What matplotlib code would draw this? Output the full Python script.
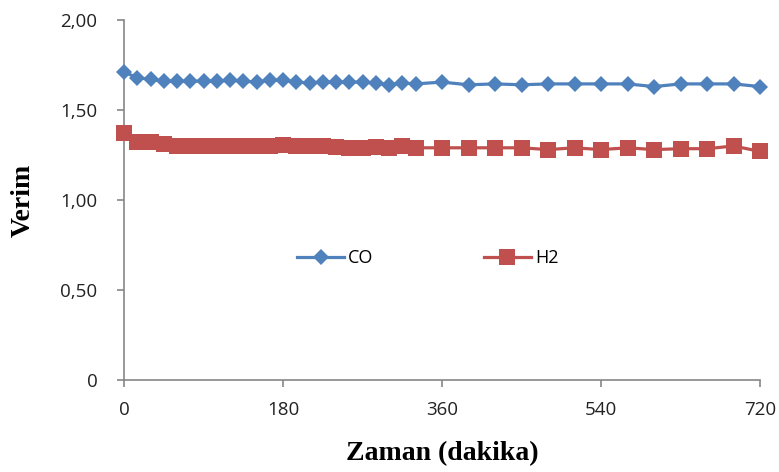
import matplotlib
matplotlib.use("Agg")
import matplotlib.pyplot as plt
from matplotlib.ticker import FixedLocator

time_min = [0, 15, 30, 45, 60, 75, 90, 105, 120, 135, 150, 165, 180, 195, 210, 225,
            240, 255, 270, 285, 300, 315, 330, 360, 390, 420, 450, 480, 510, 540,
            570, 600, 630, 660, 690, 720]
co_yield = [1.71, 1.68, 1.67, 1.66, 1.66, 1.66, 1.66, 1.66, 1.665, 1.66, 1.655, 1.665,
            1.665, 1.655, 1.65, 1.655, 1.655, 1.655, 1.655, 1.65, 1.64, 1.65, 1.645,
            1.655, 1.64, 1.645, 1.64, 1.645, 1.645, 1.645, 1.645, 1.63, 1.645, 1.645,
            1.645, 1.63]
h2_yield = [1.37, 1.32, 1.32, 1.31, 1.30, 1.30, 1.30, 1.30, 1.30, 1.30, 1.30, 1.30,
            1.305, 1.30, 1.30, 1.30, 1.295, 1.29, 1.29, 1.295, 1.29, 1.30, 1.29,
            1.29, 1.29, 1.29, 1.29, 1.28, 1.29, 1.28, 1.29, 1.28, 1.285, 1.285,
            1.30, 1.27]
x_ticks = [0, 180, 360, 540, 720]
y_ticks = [0, 0.5, 1.0, 1.5, 2.0]
y_tick_labels = ["0", "0,50", "1,00", "1,50", "2,00"]

W, H = 779, 472
fig = plt.figure(figsize=(W / 100, H / 100), dpi=100)
ax = fig.add_axes([124 / W, (H - 380) / H, (760 - 124) / W, 360 / H])

blue = "#4F81BD"
red = "#C0504D"
ax.plot(time_min, co_yield, color=blue, lw=2.3, marker="D", markersize=8.3,
        markeredgewidth=0, label="CO", clip_on=False, zorder=3)
ax.plot(time_min, h2_yield, color=red, lw=2.3, marker="s", markersize=11,
        markeredgewidth=0, label="H2", clip_on=False, zorder=3)

ax.set_xlim(0, 720)
ax.set_ylim(0, 2.0)
ax.xaxis.set_major_locator(FixedLocator(x_ticks))
ax.yaxis.set_major_locator(FixedLocator(y_ticks))
ax.set_yticklabels(y_tick_labels)
ax.set_xticklabels([str(t) for t in x_ticks])

for s in ["top", "right"]:
    ax.spines[s].set_visible(False)
for s in ["left", "bottom"]:
    ax.spines[s].set_color("#868686")
    ax.spines[s].set_linewidth(1.2)

ax.tick_params(axis="both", colors="#868686", length=5, width=1.2, direction="out",
               labelcolor="#222222", labelsize=13.5)
ax.tick_params(axis="x", pad=10)
ax.tick_params(axis="y", pad=14)
for lab in ax.get_xticklabels() + ax.get_yticklabels():
    lab.set_fontfamily("Open Sans")

ax.set_xlabel("Zaman (dakika)", fontfamily="Liberation Serif", fontweight="bold",
              fontsize=20, labelpad=16)
ax.set_ylabel("Verim", fontfamily="Liberation Serif", fontweight="bold",
              fontsize=20, labelpad=18)

leg = ax.legend(loc="center", bbox_to_anchor=(428 / W, (H - 258) / H),
                bbox_transform=fig.transFigure, ncol=2, frameon=False,
                prop={"family": "Open Sans", "size": 13}, columnspacing=6.15,
                handlelength=2.55, handletextpad=0.25)

fig.savefig("out.png", dpi=100)
